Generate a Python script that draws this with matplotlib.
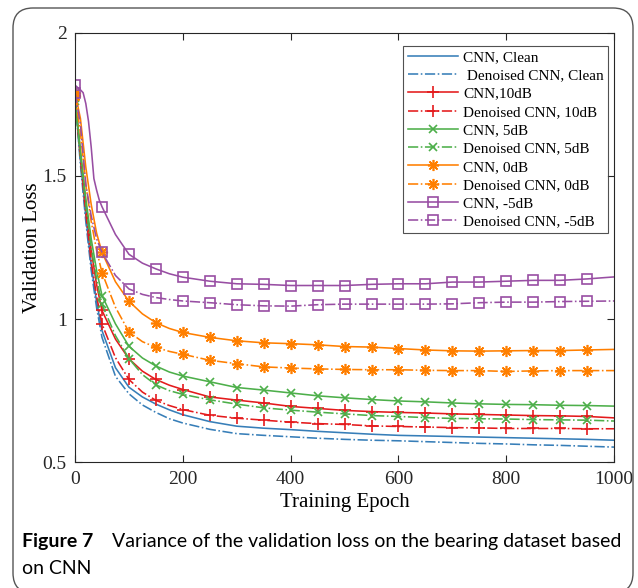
import matplotlib
matplotlib.use("Agg")
import matplotlib.pyplot as plt
from matplotlib.patches import FancyBboxPatch
from matplotlib.ticker import FuncFormatter

epochs = [0, 10, 20, 30, 40, 50, 75, 100, 125, 150, 175, 200, 250, 300, 350, 400,
          450, 500, 550, 600, 650, 700, 750, 800, 850, 900, 950, 1000]
# the -5dB CNN curve has a sharp shoulder at the start, read more densely
epochs_m5 = [0, 10, 15, 20, 25, 30, 35, 40, 45, 50, 75, 100, 125, 150, 175, 200,
             250, 300, 350, 400, 450, 500, 550, 600, 650, 700, 750, 800, 850, 900,
             950, 1000]

cnn_clean = [1.78, 1.56, 1.36, 1.19, 1.06, 0.96, 0.83, 0.762, 0.728, 0.703, 0.683,
             0.666, 0.642, 0.626, 0.619, 0.614, 0.608, 0.603, 0.598, 0.594, 0.592,
             0.590, 0.588, 0.586, 0.584, 0.582, 0.580, 0.577]
den_clean = [1.77, 1.54, 1.34, 1.17, 1.04, 0.936, 0.80, 0.739, 0.700, 0.674, 0.652,
             0.637, 0.615, 0.600, 0.594, 0.589, 0.584, 0.580, 0.577, 0.575, 0.572,
             0.569, 0.566, 0.564, 0.561, 0.559, 0.556, 0.553]
cnn_10db = [1.78, 1.58, 1.40, 1.24, 1.12, 1.03, 0.93, 0.861, 0.818, 0.789, 0.769,
            0.754, 0.728, 0.717, 0.707, 0.695, 0.688, 0.681, 0.677, 0.674, 0.672,
            0.669, 0.667, 0.665, 0.663, 0.662, 0.660, 0.655]
den_10db = [1.78, 1.56, 1.37, 1.20, 1.08, 0.983, 0.865, 0.789, 0.745, 0.716, 0.698,
            0.684, 0.664, 0.654, 0.647, 0.640, 0.635, 0.632, 0.627, 0.625, 0.623,
            0.621, 0.620, 0.618, 0.618, 0.618, 0.617, 0.617]
cnn_5db = [1.77, 1.59, 1.42, 1.28, 1.17, 1.082, 0.983, 0.905, 0.864, 0.836, 0.815,
           0.801, 0.781, 0.761, 0.752, 0.742, 0.732, 0.725, 0.719, 0.714, 0.711,
           0.707, 0.704, 0.702, 0.701, 0.699, 0.698, 0.696]
den_5db = [1.76, 1.57, 1.40, 1.25, 1.14, 1.051, 0.942, 0.862, 0.806, 0.770, 0.750,
           0.737, 0.718, 0.703, 0.690, 0.682, 0.675, 0.669, 0.663, 0.660, 0.656,
           0.653, 0.652, 0.651, 0.649, 0.648, 0.647, 0.644]
cnn_0db = [1.79, 1.70, 1.53, 1.40, 1.30, 1.233, 1.13, 1.062, 1.018, 0.987, 0.967,
           0.953, 0.936, 0.924, 0.917, 0.914, 0.910, 0.904, 0.902, 0.897, 0.892,
           0.889, 0.888, 0.889, 0.890, 0.890, 0.892, 0.894]
den_0db = [1.78, 1.65, 1.47, 1.34, 1.24, 1.162, 1.041, 0.955, 0.921, 0.901, 0.887,
           0.877, 0.856, 0.844, 0.833, 0.829, 0.826, 0.824, 0.823, 0.823, 0.821,
           0.820, 0.820, 0.817, 0.819, 0.820, 0.820, 0.820]
cnn_m5db = [1.816, 1.80, 1.79, 1.752, 1.69, 1.60, 1.49, 1.45, 1.415, 1.392, 1.295,
            1.226, 1.195, 1.175, 1.158, 1.146, 1.132, 1.123, 1.121, 1.117, 1.117,
            1.117, 1.121, 1.123, 1.123, 1.129, 1.129, 1.132, 1.135, 1.135, 1.140,
            1.147]
den_m5db = [1.79, 1.68, 1.47, 1.36, 1.28, 1.233, 1.152, 1.105, 1.086, 1.075, 1.068,
            1.063, 1.057, 1.050, 1.046, 1.045, 1.050, 1.052, 1.052, 1.052, 1.052,
            1.053, 1.057, 1.059, 1.059, 1.061, 1.062, 1.063]

labels = ["CNN, Clean", " Denoised CNN, Clean", "CNN,10dB", "Denoised CNN, 10dB",
          "CNN, 5dB", "Denoised CNN, 5dB", "CNN, 0dB", "Denoised CNN, 0dB",
          "CNN, -5dB", "Denoised CNN, -5dB"]
series = [cnn_clean, den_clean, cnn_10db, den_10db, cnn_5db, den_5db,
          cnn_0db, den_0db, cnn_m5db, den_m5db]
xs = [epochs] * 8 + [epochs_m5, epochs]
colors = ["#377eb8", "#377eb8", "#e41a1c", "#e41a1c", "#4daf4a", "#4daf4a",
          "#ff7f00", "#ff7f00", "#984ea3", "#984ea3"]
asterisk = (8, 2, 0)
markers = [None, None, "+", "+", "x", "x", asterisk, asterisk, "s", "s"]
msizes = [0, 0, 9, 9, 6, 6, 8, 8, 7, 7]

plt.rcParams['font.family'] = ['Liberation Serif', 'DejaVu Serif']

fig = plt.figure(figsize=(6.38, 5.88), dpi=100)
ax = fig.add_axes([0.1176, 0.2138, 0.845, 0.7309])

for k, y in enumerate(series):
    x = xs[k]
    mark_idx = [i for i, e in enumerate(x) if e % 50 == 0 and e < 1000]
    ls = '-' if k % 2 == 0 else '-.'
    ax.plot(x, y, color=colors[k], linestyle=ls, linewidth=1.15,
            marker=markers[k], markevery=mark_idx, markersize=msizes[k],
            markerfacecolor='none', markeredgecolor=colors[k],
            markeredgewidth=1.2, label=labels[k])

ax.set_xlim(0, 1000)
ax.set_ylim(0.5, 2)
ax.set_xticks([0, 200, 400, 600, 800, 1000])
ax.set_yticks([0.5, 1, 1.5, 2])
ax.yaxis.set_major_formatter(FuncFormatter(lambda v, p: '%g' % v))
ax.tick_params(direction='in', top=True, right=True, length=5, width=0.8,
               labelsize=14, colors='#262626', pad=6)
for sp in ax.spines.values():
    sp.set_color('#262626')
    sp.set_linewidth(0.8)

ax.set_xlabel('Training Epoch', fontsize=15, labelpad=4)
ax.set_ylabel('Validation Loss', fontsize=15, labelpad=0)

leg = ax.legend(loc='upper right', bbox_to_anchor=(0.989, 0.969), borderaxespad=0,
                fontsize=11, handlelength=3.3, handletextpad=0.3, labelspacing=0.3,
                frameon=True, fancybox=False, edgecolor='#262626', borderpad=0.3)
leg.get_frame().set_linewidth(0.8)

# rounded frame round the whole figure, as in the journal layout
frame = FancyBboxPatch((0.13, -0.05), 6.20, 5.85,
                       boxstyle="round,pad=0,rounding_size=0.2",
                       transform=fig.dpi_scale_trans, fill=False,
                       edgecolor='#555555', linewidth=1.0)
fig.patches.append(frame)

cap_font = ['Lato', 'DejaVu Sans']
fig.text(22 / 638, 1 - 541 / 588, 'Figure 7', fontsize=14, fontweight='bold',
         family=cap_font, va='center', ha='left')
fig.text(112 / 638, 1 - 541 / 588,
         'Variance of the validation loss on the bearing dataset based',
         fontsize=14, family=cap_font, va='center', ha='left')
fig.text(22 / 638, 1 - 569 / 588, 'on CNN', fontsize=14, family=cap_font,
         va='center', ha='left')

fig.savefig('out.png', dpi=100)
